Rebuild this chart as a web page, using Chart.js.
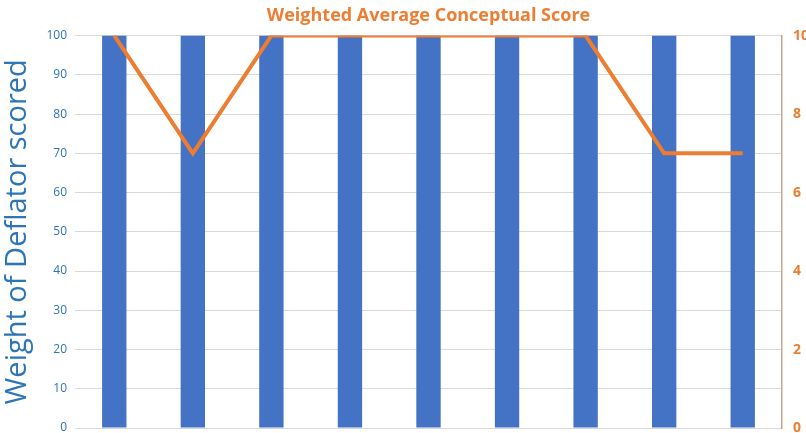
<!DOCTYPE html>
<html>
<head>
<meta charset="utf-8">
<script src="https://cdn.jsdelivr.net/npm/chart.js@4"></script>
<style>
  html, body { margin: 0; padding: 0; background: #fff; overflow: hidden; }
  #wrap { width: 806px; height: 433px; }
</style>
</head>
<body>
<div id="wrap"><canvas id="myChart" width="806" height="433"></canvas></div>
<script>
// Categories (no visible labels on the x axis)
const categories = ['1', '2', '3', '4', '5', '6', '7', '8', '9'];
// Bar series: weight of deflator scored (left axis)
const weightValues = [100, 100, 100, 100, 100, 100, 100, 100, 100];
// Line series: weighted average conceptual score (right axis)
const scoreValues = [10, 7, 10, 10, 10, 10, 10, 7, 7];

const blue = '#4472c4';
const orange = '#ed7d31';
const tickBlue = '#2e75b6';

// drop the half-label padding chart.js keeps above/below vertical axes
function tightFit(width) {
    return function (scale) {
        scale.width = width;
        scale.paddingTop = 0;
        scale.paddingBottom = 0;
    };
}

const ctx = document.getElementById('myChart').getContext('2d');

new Chart(ctx, {
    type: 'bar',
    data: {
        labels: categories,
        datasets: [
            {
                type: 'line',
                label: 'Weighted Average Conceptual Score',
                data: scoreValues,
                yAxisID: 'y1',
                borderColor: orange,
                borderWidth: 4,
                pointRadius: 0,
                tension: 0,
                order: 0
            },
            {
                label: 'Weight of Deflator scored',
                data: weightValues,
                yAxisID: 'y',
                backgroundColor: blue,
                barPercentage: 0.31,
                categoryPercentage: 1,
                order: 1
            }
        ]
    },
    options: {
        responsive: false,
        animation: false,
        layout: {
            padding: { left: 0, right: 0, top: 5, bottom: 5 }
        },
        plugins: {
            legend: { display: false },
            tooltip: { enabled: false },
            title: {
                display: true,
                fullSize: false,
                text: 'Weighted Average Conceptual Score',
                color: orange,
                font: { family: 'Open Sans', size: 18, weight: 'bold' },
                padding: { top: 0, bottom: 9 }
            }
        },
        scales: {
            x: {
                display: false
            },
            y: {
                position: 'left',
                min: 0,
                max: 100,
                ticks: {
                    stepSize: 10,
                    color: tickBlue,
                    font: { family: 'Open Sans', size: 12 },
                    padding: 8
                },
                grid: { color: '#d9d9d9', drawTicks: false },
                border: { display: false },
                title: {
                    display: true,
                    text: 'Weight of Deflator scored',
                    color: tickBlue,
                    font: { family: 'Open Sans', size: 29 },
                    padding: { top: 0, bottom: 0 }
                },
                afterFit: tightFit(75)
            },
            y1: {
                position: 'right',
                min: 0,
                max: 10,
                ticks: {
                    stepSize: 2,
                    color: orange,
                    font: { family: 'Open Sans', size: 14, weight: 'bold' },
                    padding: 11
                },
                grid: { display: false, drawTicks: false },
                border: { display: true, color: '#c9a88a', width: 1.5 },
                afterFit: tightFit(24)
            }
        }
    }
});
</script>
</body>
</html>
